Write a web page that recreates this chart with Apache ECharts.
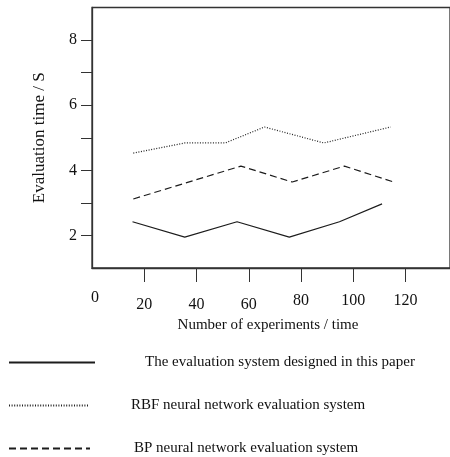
<!DOCTYPE html>
<html>
<head>
<meta charset="utf-8">
<script src="https://cdn.jsdelivr.net/npm/echarts@6/dist/echarts.min.js"></script>
<style>
html,body{margin:0;padding:0;background:#fff;}
#chart{width:450px;height:457px;}
</style>
</head>
<body>
<div id="chart"></div>
<script>
// ---- data ----
var seriesNames = [
  'The evaluation system designed in this paper',
  'RBF neural network evaluation system',
  'BP neural network evaluation system'
];
var solidX = [15.5, 35.5, 55.5, 75.5, 94.7, 111];
var solidY = [2.42, 1.95, 2.42, 1.95, 2.42, 2.97];
var rbfX = [15.8, 35.5, 51, 66, 88.7, 114.3];
var rbfY = [4.53, 4.84, 4.84, 5.33, 4.84, 5.33];
var bpX = [15.8, 57, 76.6, 96.6, 115.5];
var bpY = [3.12, 4.13, 3.64, 4.13, 3.64];
var xTickValues = [20, 40, 60, 80, 100, 120];
var xLabelValues = [0, 20, 40, 60, 80, 100, 120];
var yTickValues = [2, 3, 4, 5, 6, 7, 8];
var yLabelValues = [2, 4, 6, 8];
var xAxisName = 'Number of experiments / time';
var yAxisName = 'Evaluation time / S';

function pairs(xs, ys) { return xs.map(function (x, i) { return [x, ys[i]]; }); }

var FONT = '"Liberation Serif", "Times New Roman", serif';
var INK = '#1c1c1c';

var chart = echarts.init(document.getElementById('chart'));
function legendFor(name, top, width, pad) {
  return {
    data: [name], left: 8, top: top, orient: 'horizontal',
    itemWidth: width, itemHeight: 14, padding: 0,
    selectedMode: false,
    itemStyle: { opacity: 0, borderWidth: 0 },
    textStyle: { fontFamily: FONT, fontSize: 15, color: '#111', padding: [0, 0, 0, pad] }
  };
}
var lineStyleBase = { color: INK, width: 1.2 };
chart.setOption({
  animation: false,
  backgroundColor: '#fff',
  grid: { left: 92, right: -5, top: 7.5, bottom: 189, show: true, borderColor: '#333', borderWidth: 1.3 },
  legend: [
    legendFor(seriesNames[0], 355, 86, 45),
    legendFor(seriesNames[1], 398, 79, 38),
    legendFor(seriesNames[2], 441, 81, 39)
  ],
  xAxis: {
    type: 'value', min: 0, max: 137,
    name: xAxisName, nameLocation: 'middle', nameGap: 48,
    nameTextStyle: { fontFamily: FONT, fontSize: 15, color: '#111', padding: [0, 6, 0, 0] },
    axisLine: { show: true, lineStyle: { color: '#333', width: 1.3 } },
    axisTick: { show: true, length: 14, lineStyle: { color: '#333', width: 1 }, customValues: xTickValues },
    splitLine: { show: false },
    axisLabel: {
      customValues: xLabelValues, margin: 22,
      fontFamily: FONT, fontSize: 16, color: '#111',
      formatter: function (v) {
        if (v === 0) return '{z|' + v + '}';
        if (v <= 60) return '{a|' + v + '}';
        return '{b|' + v + '}';
      },
      rich: {
        z: { fontFamily: FONT, fontSize: 16, color: '#111', padding: [0, 0, 0, 6] },
        a: { fontFamily: FONT, fontSize: 16, color: '#111', padding: [7, 0, 0, 0] },
        b: { fontFamily: FONT, fontSize: 16, color: '#111', padding: [3, 0, 0, 0] }
      }
    }
  },
  yAxis: {
    type: 'value', min: 1, max: 9,
    name: yAxisName, nameLocation: 'middle', nameGap: 44, nameRotate: 90,
    nameTextStyle: { fontFamily: FONT, fontSize: 17, color: '#111' },
    axisLine: { show: true, lineStyle: { color: '#333', width: 1.3 } },
    axisTick: { show: true, length: 11, lineStyle: { color: '#333', width: 1 }, customValues: yTickValues },
    splitLine: { show: false },
    axisLabel: { customValues: yLabelValues, margin: 15, fontFamily: FONT, fontSize: 16, color: '#111' }
  },
  series: [
    { name: seriesNames[0], type: 'line', symbol: 'none', data: pairs(solidX, solidY),
      lineStyle: Object.assign({}, lineStyleBase, { type: 'solid' }), itemStyle: { color: INK } },
    { name: seriesNames[1], type: 'line', symbol: 'none', data: pairs(rbfX, rbfY),
      lineStyle: Object.assign({}, lineStyleBase, { type: [1, 1.6], width: 1.2, color: '#222' }), itemStyle: { color: '#222' } },
    { name: seriesNames[2], type: 'line', symbol: 'none', data: pairs(bpX, bpY),
      lineStyle: Object.assign({}, lineStyleBase, { type: [7, 4] }), itemStyle: { color: INK } }
  ]
});
</script>
</body>
</html>
